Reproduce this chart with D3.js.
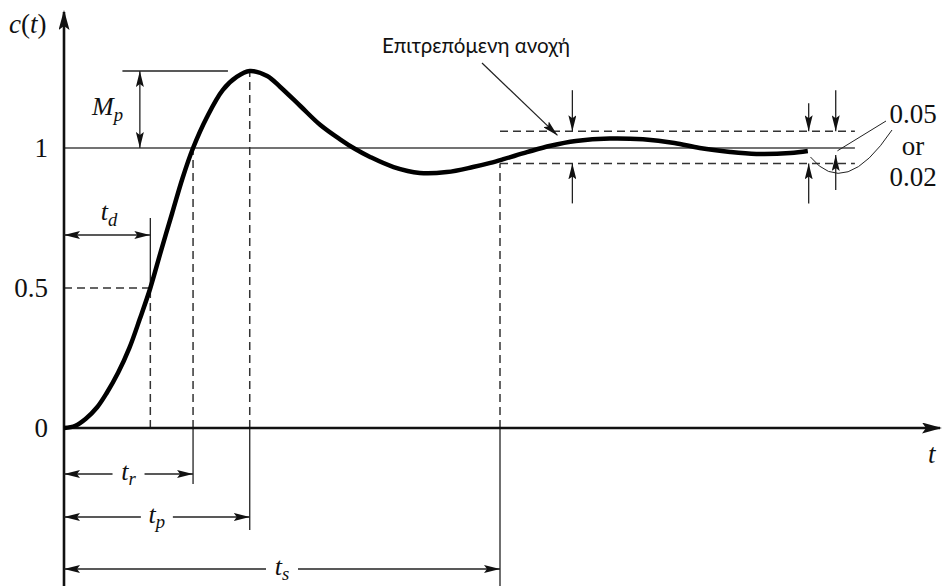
<!DOCTYPE html>
<html>
<head>
<meta charset="utf-8">
<script src="https://cdn.jsdelivr.net/npm/d3@7"></script>
<style>
body { margin: 0; background: #fff; }
svg { display: block; }
text { font-family: "Liberation Serif", "Times New Roman", serif; fill: #111; }
</style>
</head>
<body>
<svg width="942" height="586"></svg>
<script>
// step response (time in arbitrary units, output c(t))
var times  = [0, 0.13, 0.25, 0.38, 0.49, 0.62, 0.75, 0.87, 0.99, 1.11, 1.24, 1.36, 1.48, 1.64, 1.82,
              1.98, 2.13, 2.33, 2.48, 2.71, 2.94, 3.17, 3.33, 3.51, 3.78, 4.08, 4.39, 4.69, 4.89, 5.05,
              5.31, 5.58, 5.87, 6.26, 6.64, 7.00, 7.29, 7.64, 7.94, 8.33, 8.53];
var values = [0, 0.008, 0.033, 0.074, 0.125, 0.197, 0.286, 0.39, 0.5, 0.63, 0.767, 0.893, 1.0, 1.111, 1.207,
              1.254, 1.275, 1.257, 1.218, 1.15, 1.082, 1.03, 0.998, 0.968, 0.932, 0.911, 0.914, 0.932, 0.947, 0.961,
              0.985, 1.008, 1.025, 1.034, 1.031, 1.018, 1.0, 0.986, 0.979, 0.982, 0.989];

var yTicks = [0, 0.5, 1];
var yTickLabels = ["0", "0.5", "1"];

// characteristic times
var tdTime = 0.99, trTime = 1.48, tpTime = 2.13, tsTime = 5.0;
var peakValue = 1.275;
var band = [0.945, 1.06];        // tolerance band
var innerBandLow = 0.975;       // narrower band (right arrows)
var bandEnd = 9.07;
var tolArrowTimes = [5.83, 8.54];
var innerArrowTime = 8.85;
var bandLabels = ["0.05", "or", "0.02"];
var noteText = "Επιτρεπόμενη ανοχή";

var svg = d3.select("svg");
var x = d3.scaleLinear().domain([0, 10]).range([64, 936]);
var y = d3.scaleLinear().domain([0, 1]).range([428, 148]);

var defs = svg.append("defs");
defs.append("marker")
	.attr("id", "ah")
	.attr("viewBox", "0 0 16 8")
	.attr("refX", 16).attr("refY", 4)
	.attr("markerWidth", 16).attr("markerHeight", 8)
	.attr("markerUnits", "userSpaceOnUse")
	.attr("orient", "auto-start-reverse")
	.append("path").attr("d", "M0,0 L16,4 L0,8 L3,4 z").attr("fill", "#111");
defs.append("marker")
	.attr("id", "axh")
	.attr("viewBox", "0 0 20 11")
	.attr("refX", 18).attr("refY", 5.5)
	.attr("markerWidth", 20).attr("markerHeight", 11)
	.attr("markerUnits", "userSpaceOnUse")
	.attr("orient", "auto")
	.append("path").attr("d", "M0,0 L20,5.5 L0,11 L4,5.5 z").attr("fill", "#111");

function line(x1, y1, x2, y2, opts) {
	opts = opts || {};
	var l = svg.append("line")
		.attr("x1", x1).attr("y1", y1).attr("x2", x2).attr("y2", y2)
		.attr("stroke", opts.color || "#222")
		.attr("stroke-width", opts.width || 1.3);
	if (opts.dash) l.attr("stroke-dasharray", "8,5");
	if (opts.start) l.attr("marker-start", "url(#" + opts.start + ")");
	if (opts.end) l.attr("marker-end", "url(#" + opts.end + ")");
	return l;
}

function subLabel(xp, yp, main, sub, size, subDy) {
	var t = svg.append("text")
		.attr("x", xp).attr("y", yp)
		.attr("text-anchor", "middle")
		.style("font-size", size + "px")
		.style("font-style", "italic");
	t.append("tspan").text(main);
	t.append("tspan").attr("dy", subDy).style("font-size", (size * 0.72) + "px").text(sub);
	return t;
}

// dimension arrow with gap for label
function dim(x1, x2, yp, label, sub) {
	var mid = (x1 + x2) / 2;
	line(x1, yp, mid - 16, yp, {start: "ah"});
	line(mid + 16, yp, x2, yp, {end: "ah"});
	subLabel(mid, yp + 6, label, sub, 26, 5);
}

// reference lines
line(x(0), y(1), x(bandEnd), y(1), {width: 1.6, color: "#444"});
line(x(tsTime), y(band[1]), x(bandEnd), y(band[1]), {dash: true, width: 1.5, color: "#333"});
line(x(tsTime), y(band[0]), x(bandEnd), y(band[0]), {dash: true, width: 1.5, color: "#333"});
line(x(0), y(0.5), x(tdTime), y(0.5), {dash: true, width: 1.5, color: "#333"});

// verticals
line(x(tdTime), y(0), x(tdTime), y(0.5), {dash: true, width: 1.5, color: "#333"});
line(x(tdTime), y(0.5), x(tdTime), y(0.5) - 70, {width: 1.3});
line(x(trTime), y(0), x(trTime), y(1), {dash: true, width: 1.5, color: "#333"});
line(x(trTime), y(0), x(trTime), y(0) + 56, {width: 1.3});
line(x(tpTime), y(0), x(tpTime), y(peakValue), {dash: true, width: 1.5, color: "#333"});
line(x(tpTime), y(0), x(tpTime), y(0) + 102, {width: 1.3});
line(x(tsTime), y(0), x(tsTime), y(band[0]), {dash: true, width: 1.5, color: "#333"});
line(x(tsTime), y(0), x(tsTime), 586, {width: 1.3});

// axes
line(x(0), 586, x(0), 12, {width: 2.6, color: "#111", end: "axh"});
line(x(0), y(0), 940, y(0), {width: 2.6, color: "#111", end: "axh"});

var yAxis = d3.axisLeft(y).tickValues(yTicks)
	.tickFormat(function(d, i) { return yTickLabels[i]; })
	.tickSize(0).tickPadding(16);
var ga = svg.append("g").attr("transform", "translate(" + x(0) + ",0)").call(yAxis);
ga.select(".domain").remove();
ga.selectAll("text")
	.style("font-family", "'Liberation Serif', serif")
	.style("font-size", "27px")
	.attr("fill", "#111");

// response curve
var data = times.map(function(t, i) { return [t, values[i]]; });
svg.append("path")
	.datum(data)
	.attr("fill", "none")
	.attr("stroke", "#000")
	.attr("stroke-width", 4.5)
	.attr("stroke-linejoin", "round")
	.attr("d", d3.line().x(function(d) { return x(d[0]); }).y(function(d) { return y(d[1]); }).curve(d3.curveCatmullRom.alpha(0.5)));

// Mp
line(x(0.67), y(peakValue), x(1.88), y(peakValue), {width: 1.3});
line(x(0.87), y(peakValue), x(0.87), y(1), {start: "ah", end: "ah"});
subLabel(x(0.5), 115, "M", "p", 26, 6);

// time dims
line(x(0), y(0.5) - 53, x(tdTime), y(0.5) - 53, {start: "ah", end: "ah"});
subLabel(x(tdTime / 2) + 2, 220, "t", "d", 26, 6);
dim(x(0), x(trTime), y(0) + 46, "t", "r");
dim(x(0), x(tpTime), y(0) + 89, "t", "p");
dim(x(0), x(tsTime), y(0) + 141, "t", "s");

// tolerance arrows
tolArrowTimes.forEach(function(t, i) {
	line(x(t), y(band[1]) - (i == 0 ? 41 : 28), x(t), y(band[1]), {end: "ah"});
	line(x(t), y(band[0]) + 40, x(t), y(band[0]), {end: "ah"});
});
line(x(innerArrowTime), y(band[1]) - 41, x(innerArrowTime), y(band[1]), {end: "ah"});
line(x(innerArrowTime), y(innerBandLow) + 35, x(innerArrowTime), y(innerBandLow), {end: "ah"});

// band labels and leaders
bandLabels.forEach(function(s, i) {
	svg.append("text")
		.attr("x", 913).attr("y", 123 + i * 31.5)
		.attr("text-anchor", "middle")
		.style("font-size", "27px")
		.text(s);
});
line(x(8.87), y(0.99), 886, 121, {width: 1});
svg.append("path")
	.attr("d", "M" + x(8.56) + "," + y(0.968) + " Q845,200 892,130")
	.attr("fill", "none").attr("stroke", "#222").attr("stroke-width", 1);

// note
svg.append("text")
	.attr("x", 382).attr("y", 53)
	.style("font-family", "Lato, 'Open Sans', sans-serif")
	.style("font-size", "20.5px")
	.text(noteText);
line(482, 63, x(5.66), y(1.045), {width: 1.2, end: "ah"});

// axis names
var ct = svg.append("text").attr("x", 9).attr("y", 33).style("font-size", "27px");
ct.append("tspan").style("font-style", "italic").text("c");
ct.append("tspan").text("(");
ct.append("tspan").style("font-style", "italic").text("t");
ct.append("tspan").text(")");
svg.append("text").attr("x", 928).attr("y", 463).style("font-size", "27px").style("font-style", "italic").text("t");
</script>
</body>
</html>
